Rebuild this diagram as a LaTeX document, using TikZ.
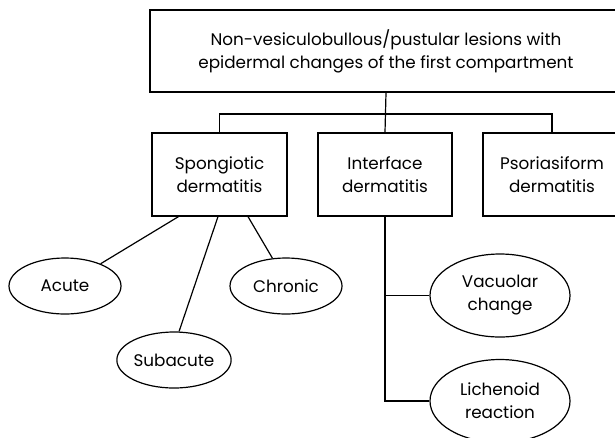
\documentclass[tikz,border=0pt]{standalone}
\usepackage{fontspec}
\setmainfont{Poppins}
\usepackage{tikz}
\usetikzlibrary{shapes,positioning,calc}

\tikzset{
  box/.style={draw, rectangle, line width=1.2pt, align=center, inner sep=0pt},
  oval/.style={draw, ellipse, line width=1.2pt, align=center, inner sep=0pt,
    minimum width=112pt, minimum height=56pt},
  bigoval/.style={oval, minimum width=140pt, minimum height=83pt},
  link/.style={line width=1.2pt}
}

\begin{document}
\begin{tikzpicture}[x=1pt, y=-1pt, font=\fontsize{16.8}{23}\selectfont]
\clip (0,0) rectangle (615,437);

\node [box, minimum width=472pt, minimum height=82pt] (top) at (386,51)
  {Non-vesiculobullous/pustular lesions with\\epidermal changes of the first compartment};

\node [box, minimum width=135pt, minimum height=83pt] (spong) at (219.5,174.5) {Spongiotic\\dermatitis};
\node [box, minimum width=134pt, minimum height=83pt] (inter) at (385,174.5) {Interface\\dermatitis};
\node [box, minimum width=138pt, minimum height=83pt] (psor) at (552,174.5) {Psoriasiform\\dermatitis};

\node [oval] (acute) at (65,286) {Acute};
\node [oval] (subac) at (174,360) {Subacute};
\node [oval] (chron) at (286,286) {Chronic};

\node [bigoval] (vacu) at (500,295.5) {Vacuolar\\change};
\node [bigoval] (lichen) at (500,401) {Lichenoid\\reaction};

% tree from the top box
\coordinate (bus) at (0,114);
\draw [link] (top.south) -- (inter.north);
\draw [link] (spong.north) -- (spong.north |- bus) -- (psor.north |- bus) -- (psor.north);

% spongiotic branches
\draw [link] ($(spong.south)+(-41,0)$) -- (acute.32);
\draw [link] ($(spong.south)+(-1.5,0)$) -- (subac.80);
\draw [link] ($(spong.south)+(28.5,0)$) -- (chron.116);

% interface branches
\draw [link] (inter.south) |- (lichen.west);
\draw [link] (inter.south |- vacu.west) -- (vacu.west);
\end{tikzpicture}
\end{document}
